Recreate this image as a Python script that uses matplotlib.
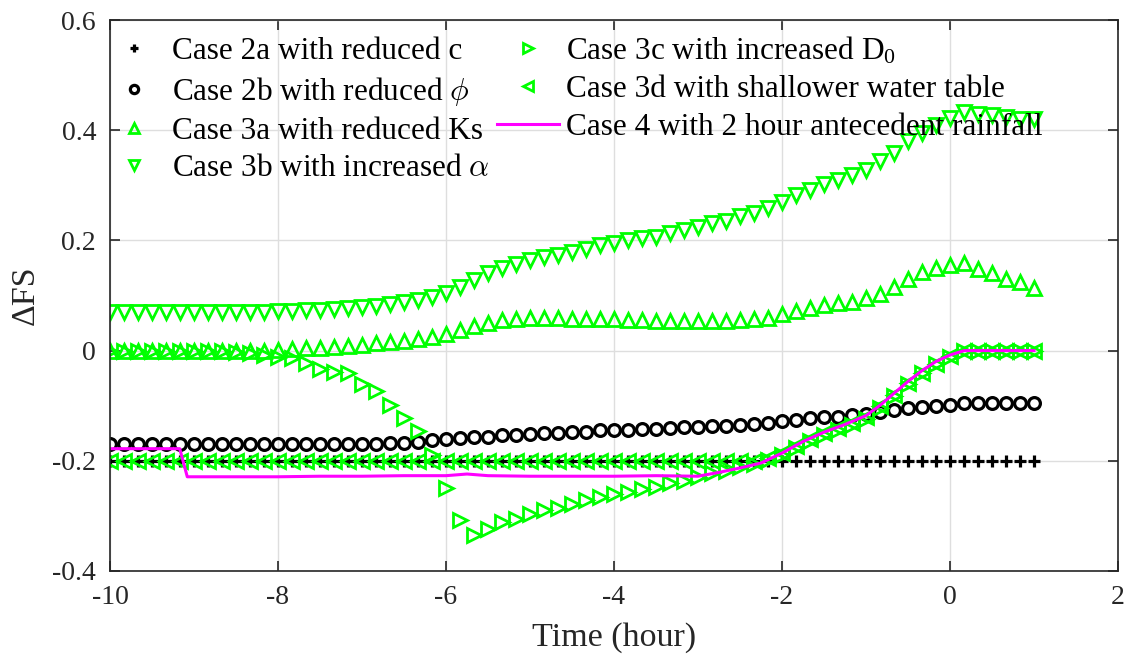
import numpy as np
import matplotlib
matplotlib.use("Agg")
import matplotlib.pyplot as plt

plt.rcParams['font.family'] = ['Liberation Serif', 'DejaVu Serif']
plt.rcParams['mathtext.fontset'] = 'cm'
plt.rcParams['axes.unicode_minus'] = False

# ---- data ----
time_h = np.linspace(-10, 1, 67)   # 10-minute sampling

case2a = [-0.200] * 67

case2b = [-0.170, -0.170, -0.170, -0.170, -0.170, -0.170, -0.170, -0.170, -0.170, -0.170,
          -0.170, -0.170, -0.170, -0.170, -0.170, -0.170, -0.170, -0.170, -0.170,
          -0.169, -0.168, -0.167, -0.165, -0.163, -0.161, -0.159, -0.157, -0.156, -0.154, -0.153,
          -0.151, -0.150, -0.149, -0.148, -0.147, -0.145, -0.144, -0.144, -0.143, -0.142,
          -0.140, -0.139, -0.138, -0.137, -0.136, -0.135, -0.133, -0.131, -0.128, -0.126,
          -0.123, -0.121, -0.120, -0.117, -0.115, -0.112, -0.108, -0.105, -0.102, -0.100,
          -0.098, -0.095, -0.095, -0.095, -0.095, -0.095, -0.095]

case3a = [0.000, 0.000, 0.000, 0.000, 0.000, 0.000, 0.000, 0.000, 0.000, 0.000, 0.000, 0.000,
          0.001, 0.002, 0.004, 0.005, 0.007, 0.009, 0.011, 0.013,
          0.016, 0.018, 0.021, 0.025, 0.030, 0.037, 0.044, 0.050, 0.055, 0.058,
          0.059, 0.059, 0.059, 0.058, 0.058, 0.057, 0.057, 0.056, 0.055, 0.054,
          0.053, 0.053, 0.053, 0.053, 0.054, 0.055, 0.057, 0.060, 0.066, 0.072,
          0.078, 0.083, 0.086, 0.089, 0.095, 0.103, 0.116, 0.130, 0.142, 0.150,
          0.156, 0.159, 0.148, 0.141, 0.130, 0.124, 0.113]

case3b = [0.070, 0.070, 0.070, 0.070, 0.070, 0.070, 0.070, 0.070, 0.070, 0.070, 0.070, 0.070,
          0.071, 0.072, 0.073, 0.074, 0.075, 0.077, 0.079, 0.081,
          0.084, 0.088, 0.092, 0.097, 0.104, 0.115, 0.128, 0.140, 0.150, 0.158,
          0.164, 0.169, 0.174, 0.179, 0.184, 0.191, 0.195, 0.200, 0.204, 0.207,
          0.213, 0.219, 0.225, 0.231, 0.236, 0.244, 0.250, 0.259, 0.270, 0.282,
          0.292, 0.303, 0.310, 0.318, 0.327, 0.344, 0.359, 0.380, 0.395, 0.410,
          0.423, 0.433, 0.430, 0.427, 0.424, 0.421, 0.420]

case3c = [0.000, 0.000, 0.000, 0.000, 0.000, 0.000, 0.000, 0.000, 0.000,
          -0.002, -0.004, -0.008, -0.011, -0.014, -0.023, -0.033, -0.038, -0.041, -0.060, -0.073,
          -0.098, -0.123, -0.146, -0.190, -0.250, -0.308, -0.335, -0.323, -0.311, -0.305,
          -0.297, -0.290, -0.285, -0.278, -0.272, -0.266, -0.261, -0.256, -0.252, -0.247,
          -0.241, -0.236, -0.230, -0.223, -0.219, -0.212, -0.206, -0.199, -0.189, -0.177,
          -0.164, -0.153, -0.144, -0.135, -0.124, -0.104, -0.083, -0.060, -0.041, -0.025,
          -0.011, 0.000, 0.000, 0.000, 0.000, 0.000, 0.000]

case3d = [-0.200] * 47 + [-0.195, -0.185, -0.173, -0.161, -0.150, -0.141, -0.132, -0.120,
                          -0.101, -0.080, -0.058, -0.040, -0.024, -0.010,
                          0.000, 0.000, 0.000, 0.000, 0.000, 0.000]

case4_time = [-10, -9.17, -9.08, -8.5, -8.0, -7.5, -7.0, -6.5, -6.0, -5.75, -5.5, -5.0, -4.5,
              -4.0, -3.5, -3.0, -2.75, -2.5, -2.25, -2.0, -1.75, -1.5, -1.25, -1.0, -0.83,
              -0.67, -0.5, -0.33, -0.17, 0.0, 0.17, 0.5, 1.0]
case4 = [-0.178, -0.178, -0.229, -0.229, -0.229, -0.228, -0.228, -0.227, -0.227, -0.224,
         -0.227, -0.228, -0.228, -0.228, -0.227, -0.228, -0.221, -0.213, -0.204, -0.186,
         -0.165, -0.148, -0.134, -0.118, -0.099, -0.078, -0.056, -0.036, -0.020, -0.008,
         0.000, 0.000, 0.000]

labels = ['Case 2a with reduced c',
          r'Case 2b with reduced $\phi$',
          'Case 3a with reduced Ks',
          r'Case 3b with increased $\alpha$',
          r'Case 3c with increased $\mathregular{D_0}$',
          'Case 3d with shallower water table',
          'Case 4 with 2 hour antecedent rainfall']

xticks = [-10, -8, -6, -4, -2, 0, 2]
xticklabels = ['-10', '-8', '-6', '-4', '-2', '0', '2']
yticks = [-0.4, -0.2, 0, 0.2, 0.4, 0.6]
yticklabels = ['-0.4', '-0.2', '0', '0.2', '0.4', '0.6']

# ---- figure ----
fig = plt.figure(figsize=(11.24, 6.6), dpi=100)
ax = fig.add_axes([110 / 1124, 89 / 660, 1008 / 1124, 551 / 660])

green = (0, 1, 0)
ax.plot(time_h, case2a, linestyle='none', marker='+', ms=9, mew=2.3, color='black', label=labels[0])
ax.plot(time_h, case2b, linestyle='none', marker='o', ms=8.5, mew=2.3, mfc='none', mec='black', label=labels[1])
ax.plot(time_h, case3a, linestyle='none', marker='^', ms=10.5, mew=2.0, mfc='none', mec=green, label=labels[2])
ax.plot(time_h, case3b, linestyle='none', marker='v', ms=10.5, mew=2.0, mfc='none', mec=green, label=labels[3])
ax.plot(time_h, case3c, linestyle='none', marker='>', ms=10.5, mew=2.0, mfc='none', mec=green, label=labels[4])
ax.plot(time_h, case3d, linestyle='none', marker='<', ms=10.5, mew=2.0, mfc='none', mec=green, label=labels[5])
ax.plot(case4_time, case4, color=(1, 0, 1), lw=2.2, label=labels[6])

ax.set_xlim(-10, 2)
ax.set_ylim(-0.4, 0.6)
ax.set_xticks(xticks, xticklabels)
ax.set_yticks(yticks, yticklabels)
ax.grid(True, color='#dedede', linewidth=1.0)
ax.set_axisbelow(True)
ax.tick_params(direction='in', length=7, width=1.2, top=True, right=True,
               labelsize=20, colors='#262626', pad=10)
for s in ax.spines.values():
    s.set_color('#262626')
    s.set_linewidth(1.2)

ax.set_xlabel('Time (hour)', fontsize=24.5, color='#262626', labelpad=9)
ax.set_ylabel('ΔFS', fontsize=24.5, color='#262626', labelpad=8)

leg = ax.legend(ncol=2, loc='upper left', bbox_to_anchor=(-0.013, 0.985), frameon=False,
                fontsize=22.5, handlelength=2.0, handletextpad=0.21, columnspacing=0.23,
                labelspacing=0.28, borderaxespad=0.0, borderpad=0.2, markerscale=0.7)

fig.savefig('out.png', dpi=100)
